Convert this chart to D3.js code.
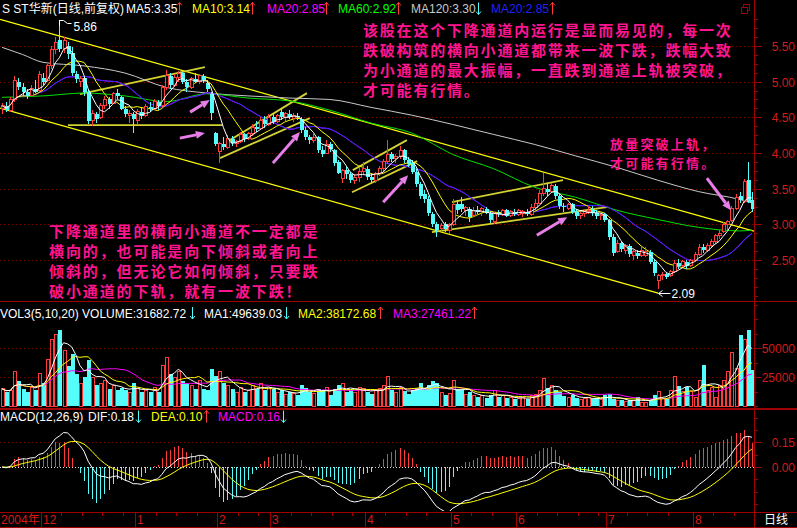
<!DOCTYPE html>
<html><head><meta charset="utf-8">
<script src="https://cdn.jsdelivr.net/npm/d3@7"></script>
<style>html,body{margin:0;padding:0;background:#000;}svg{display:block;}</style>
</head><body><svg id="c" width="797" height="528"></svg>
<script>
// ---------------- DATA ----------------
const opens=[4.62,4.66,4.60,4.75,5.00,4.92,4.85,4.80,4.90,4.88,
5.05,5.02,5.22,5.45,5.58,5.46,5.50,5.40,5.10,5.00,
5.05,4.85,4.45,4.55,4.50,4.66,4.75,4.70,4.84,4.78,
4.62,4.52,4.55,4.46,4.58,4.52,4.65,4.62,4.72,4.66,
4.92,5.08,4.95,5.06,5.12,5.00,4.92,5.04,5.00,5.08,
4.98,4.82,4.28,4.02,4.12,4.08,4.20,4.14,4.16,4.26,
4.20,4.28,4.36,4.34,4.46,4.40,4.50,4.44,4.58,4.50,
4.55,4.48,4.52,4.48,4.32,4.22,4.18,4.22,4.04,4.00,
4.12,4.04,3.88,3.64,3.76,3.70,3.62,3.66,3.74,3.78,
3.66,3.62,3.72,3.78,3.88,3.98,3.92,3.95,4.04,3.90,
3.86,3.74,3.56,3.42,3.36,3.14,3.00,2.94,3.00,2.92,
3.00,3.28,3.28,3.20,3.22,3.12,3.20,3.18,3.22,3.16,
3.04,3.16,3.14,3.20,3.12,3.18,3.14,3.16,3.18,3.14,
3.24,3.30,3.44,3.50,3.46,3.54,3.40,3.26,3.22,3.28,
3.18,3.12,3.16,3.18,3.20,3.16,3.12,3.14,3.06,2.82,
2.62,2.74,2.64,2.70,2.56,2.60,2.56,2.56,2.62,2.48,
2.22,2.28,2.30,2.28,2.34,2.46,2.42,2.48,2.42,2.50,
2.58,2.68,2.64,2.70,2.76,2.84,2.90,3.00,3.06,3.22,
3.40,3.32,3.62,3.34];
const highs=[4.70,4.72,4.78,5.08,5.05,4.98,4.90,4.95,5.02,5.15,
5.12,5.25,5.50,5.62,5.86,5.62,5.55,5.48,5.15,5.08,
5.08,4.88,4.60,4.58,4.70,4.80,4.78,4.86,4.90,4.80,
4.66,4.60,4.58,4.62,4.64,4.68,4.72,4.75,4.74,4.95,
5.16,5.12,5.10,5.15,5.14,5.04,5.06,5.12,5.10,5.10,
5.02,4.86,4.30,4.15,4.22,4.25,4.24,4.18,4.30,4.28,
4.30,4.40,4.45,4.50,4.52,4.55,4.56,4.55,4.62,4.58,
4.60,4.56,4.56,4.50,4.36,4.25,4.26,4.24,4.10,4.18,
4.15,4.06,3.90,3.78,3.80,3.74,3.70,3.80,3.88,3.82,
3.72,3.74,3.82,3.92,4.18,4.02,3.98,4.10,4.06,3.94,
3.90,3.78,3.60,3.48,3.40,3.18,3.04,3.02,3.04,3.02,
3.35,3.34,3.38,3.26,3.24,3.24,3.26,3.24,3.24,3.18,
3.18,3.20,3.22,3.22,3.20,3.22,3.22,3.20,3.22,3.28,
3.36,3.48,3.72,3.56,3.58,3.56,3.42,3.30,3.30,3.30,
3.22,3.18,3.20,3.26,3.26,3.20,3.16,3.16,3.08,2.86,
2.78,2.76,2.72,2.72,2.64,2.64,2.68,2.68,2.64,2.50,
2.30,2.34,2.32,2.36,2.50,2.52,2.50,2.50,2.52,2.62,
2.72,2.72,2.74,2.80,2.86,2.92,3.04,3.06,3.26,3.42,
3.46,3.64,3.88,3.46];
const lows=[4.55,4.58,4.58,4.72,4.88,4.80,4.76,4.78,4.84,4.86,
4.95,5.00,5.18,5.38,5.42,5.40,5.32,5.08,4.98,4.92,
4.80,4.40,4.38,4.42,4.48,4.62,4.62,4.68,4.76,4.60,
4.50,4.42,4.28,4.40,4.48,4.50,4.58,4.60,4.60,4.64,
4.88,4.90,4.92,5.00,4.96,4.86,4.90,4.98,4.96,4.98,
4.86,4.46,4.10,3.86,4.04,4.05,4.10,4.08,4.14,4.16,
4.18,4.24,4.30,4.32,4.35,4.38,4.40,4.42,4.46,4.45,
4.48,4.44,4.46,4.28,4.18,4.12,4.14,4.00,3.94,3.98,
4.02,3.82,3.70,3.58,3.64,3.58,3.56,3.60,3.70,3.62,
3.58,3.58,3.68,3.74,3.84,3.88,3.86,3.92,3.86,3.80,
3.70,3.52,3.36,3.30,3.12,2.96,2.82,2.90,2.90,2.86,
2.98,3.14,3.18,3.12,3.04,3.10,3.14,3.12,3.14,3.02,
3.00,3.10,3.12,3.10,3.10,3.12,3.12,3.10,3.12,3.12,
3.20,3.28,3.40,3.40,3.44,3.36,3.22,3.18,3.20,3.14,
3.08,3.08,3.10,3.14,3.12,3.08,3.06,3.04,2.78,2.56,
2.60,2.62,2.58,2.54,2.50,2.52,2.54,2.54,2.44,2.28,
2.09,2.22,2.24,2.26,2.32,2.38,2.40,2.38,2.40,2.48,
2.56,2.60,2.62,2.68,2.72,2.80,2.88,2.92,3.04,3.20,
3.30,3.30,3.30,3.18];
const closes=[4.66,4.60,4.75,5.02,4.92,4.85,4.80,4.90,4.86,5.10,
5.00,5.22,5.45,5.55,5.46,5.58,5.38,5.12,5.03,5.05,
4.85,4.45,4.55,4.48,4.66,4.75,4.68,4.84,4.80,4.62,
4.54,4.56,4.47,4.58,4.52,4.65,4.62,4.72,4.66,4.92,
5.08,4.95,5.06,5.12,5.00,4.92,5.04,5.00,5.08,5.02,
4.90,4.56,4.12,4.14,4.08,4.20,4.14,4.16,4.26,4.20,
4.28,4.36,4.34,4.46,4.40,4.50,4.44,4.52,4.50,4.55,
4.50,4.52,4.50,4.32,4.22,4.18,4.22,4.04,3.98,4.12,
4.06,3.86,3.72,3.76,3.70,3.62,3.66,3.74,3.78,3.66,
3.62,3.72,3.78,3.88,3.98,3.92,3.95,4.04,3.90,3.84,
3.74,3.56,3.40,3.36,3.16,3.00,2.92,2.99,2.94,3.00,
3.28,3.20,3.22,3.24,3.10,3.20,3.18,3.22,3.16,3.06,
3.16,3.14,3.20,3.12,3.18,3.14,3.20,3.18,3.14,3.24,
3.30,3.44,3.50,3.46,3.54,3.40,3.26,3.24,3.28,3.18,
3.12,3.16,3.18,3.20,3.16,3.12,3.14,3.06,2.82,2.60,
2.74,2.66,2.70,2.58,2.62,2.56,2.64,2.62,2.48,2.32,
2.28,2.30,2.27,2.34,2.46,2.42,2.48,2.42,2.50,2.58,
2.68,2.64,2.70,2.76,2.84,2.88,3.00,3.04,3.22,3.38,
3.34,3.60,3.32,3.22];
const volumes=[15000,12000,14000,30000,22000,15000,12000,16000,14000,28000,
20000,40000,58000,62000,66000,48000,35000,45000,28000,20000,25000,
40000,25000,18000,20000,22000,15000,18000,14000,16000,14000,12000,20000,
15000,12000,14000,12000,16000,12000,35000,42000,28000,25000,30000,22000,20000,18000,15000,22000,15000,14000,32000,26000,
30000,20000,18000,15000,12000,16000,12000,14000,18000,15000,20000,14000,16000,
15000,12000,14000,10000,12000,11000,10000,18000,16000,12000,11000,15000,14000,16000,10000,15000,18000,20000,12000,14000,12000,16000,15000,
12000,11000,14000,15000,18000,26000,14000,12000,16000,13000,11000,14000,16000,20000,15000,18000,22000,20000,12000,10000,11000,
22000,15000,14000,10000,12000,9000,8000,9000,7000,10000,14000,8000,9000,7000,8000,6000,7000,8000,6000,9000,10000,14000,24000,16000,18000,14000,12000,9000,8000,10000,7000,6000,7000,8000,6000,7000,6000,
9500,10300,6000,5200,5200,4300,5200,4600,8000,3700,3700,5200,9500,13000,6600,6600,13800,25300,17200,12400,16600,12400,8000,22400,36000,13400,16600,8000,18000,22400,30400,46800,32700,61200,57800,65500,31683];
// MA60 / MA120 (index, value)
const ma60Idx=[0,10,20,30,40,50,60,70,80,90,100,110,120,130,140,150,160,170,180,183];
const ma60Vals=[4.78,4.80,4.84,4.80,4.72,4.83,4.77,4.73,4.60,4.42,4.28,3.98,3.78,3.52,3.38,3.20,3.07,2.96,2.91,2.92];
const ma120Idx=[0,5,10,20,30,40,50,60,70,80,90,100,110,120,130,140,150,160,170,180,183];
const ma120Vals=[5.48,5.38,5.27,5.22,5.12,4.92,4.84,4.80,4.77,4.75,4.64,4.53,4.40,4.26,4.12,3.96,3.80,3.62,3.46,3.35,3.30];
const monthStarts=[10,33,53,66,89,110,126,148,169];
const monthLabels=["12","1","2","3","4","5","6","7","8"];
const priceTicks=[5.5,5.0,4.5,4.0,3.5,3.0,2.5];
const volTicks=[50000,25000];
const macdTicks=[0.15,0.00];
// channel lines: [[index, price],[index, price]]
const mainChannel=[[[-0.5,5.873],[183.5,2.906]],[[-0.5,4.629],[160.1,2.04]]];
const smallChannels=[
 [[19.0,4.825],[49.5,5.203]],[[16.1,4.391],[53.7,4.391]],
 [[55.6,4.181],[74.4,4.839]],[[53.2,3.929],[75.1,4.489]],
 [[85.6,3.761],[98.8,4.181]],[[85.4,3.452],[101.3,3.887]],
 [[109.8,3.312],[136.9,3.620]],[[104.9,2.892],[147.6,3.242]]];
const pinkArrows=[[[45.9,4.573],[50.7,4.741]],[[43.4,4.209],[49.5,4.279]],[[66.1,3.859],[72.7,4.293]],
 [[93.0,3.312],[99.1,3.690]],[[130.5,2.850],[137.9,3.102]],[[172.0,3.648],[177.9,3.200]]];
const note1=["该股在这个下降通道内运行是显而易见的，每一次","跌破构筑的横向小通道都带来一波下跌，跌幅大致","为小通道的最大振幅，一直跌到通道上轨被突破，","才可能有行情。"];
const note2=["下降通道里的横向小通道不一定都是","横向的，也可能是向下倾斜或者向上","倾斜的，但无论它如何倾斜，只要跌","破小通道的下轨，就有一波下跌！"];
const note3=["放量突破上轨，","才可能有行情。"];

// ---------------- DRAW ----------------
const RED="#ff3c3c",CYAN="#54fcfc",AX="#a00000",LBL="#d41a1a",GRID="#7a0000";
const FONT="'Liberation Sans',Arial,'Noto Sans CJK SC',sans-serif";
const N=closes.length;
const svg=d3.select("#c");
svg.append("rect").attr("width",797).attr("height",528).attr("fill","#000");
const x=d3.scaleLinear().domain([-0.5,N-0.5]).range([0,754]);
const yP=d3.scaleLinear().domain([2.5,5.5]).range([260.2,45.9]);
const yV=d3.scaleLinear().domain([0,50000]).range([406.3,348.3]);
const yM=d3.scaleLinear().domain([0,0.15]).range([467,442.3]);
const defs=svg.append("defs");
function clip(id,y0,h){defs.append("clipPath").attr("id",id).append("rect").attr("x",0).attr("y",y0).attr("width",754).attr("height",h);}
clip("cm",17,284);clip("cv",302,106);clip("cd",410,101);
const cx=i=>Math.round(x(i));

// grids
const grid=svg.append("g").attr("stroke",GRID).attr("stroke-dasharray","1,3");
priceTicks.forEach(t=>grid.append("line").attr("x1",0).attr("x2",754).attr("y1",Math.round(yP(t))+0.5).attr("y2",Math.round(yP(t))+0.5));
volTicks.forEach(t=>grid.append("line").attr("x1",0).attr("x2",754).attr("y1",Math.round(yV(t))+0.5).attr("y2",Math.round(yV(t))+0.5));
grid.append("line").attr("x1",0).attr("x2",754).attr("y1",Math.round(yM(0.15))+0.5).attr("y2",Math.round(yM(0.15))+0.5);

// panel frame
const fr=svg.append("g").attr("stroke",AX).attr("shape-rendering","crispEdges");
fr.append("line").attr("x1",0).attr("x2",797).attr("y1",301.5).attr("y2",301.5);
fr.append("line").attr("x1",0).attr("x2",797).attr("y1",409).attr("y2",409).attr("stroke-width",2);
fr.append("line").attr("x1",0).attr("x2",797).attr("y1",512.5).attr("y2",512.5);
fr.append("line").attr("x1",0).attr("x2",797).attr("y1",527.5).attr("y2",527.5);
fr.append("line").attr("x1",754.5).attr("x2",754.5).attr("y1",0).attr("y2",528);
// window icon
fr.append("rect").attr("x",743.5).attr("y",4.5).attr("width",6).attr("height",6).attr("fill","none");
fr.append("rect").attr("x",741.5).attr("y",7.5).attr("width",6).attr("height",6).attr("fill","#000");

// right axes
function rightAxis(scale,ticks,minor,y0,y1,fmt){
  const g=svg.append("g").attr("shape-rendering","crispEdges");
  minor.forEach(v=>{const y=Math.round(scale(v))+0.5;if(y>y0&&y<y1)g.append("line").attr("x1",755).attr("x2",758).attr("y1",y).attr("y2",y).attr("stroke",AX);});
  ticks.forEach(v=>{const y=Math.round(scale(v))+0.5;
    g.append("line").attr("x1",755).attr("x2",762).attr("y1",y).attr("y2",y).attr("stroke",AX);
    g.append("text").attr("x",795).attr("y",y+4).attr("text-anchor","end").attr("fill",LBL).attr("font-family",FONT).attr("font-size",12).text(fmt(v));});
}
rightAxis(yP,priceTicks,d3.range(2.0,6.0,0.125),18,300,d3.format(".2f"));
rightAxis(yV,volTicks,d3.range(0,90000,12500),303,407,d3.format("d"));
rightAxis(yM,macdTicks,d3.range(-0.3,0.4,0.075),411,511,d3.format(".2f"));

// x axis
const xa=svg.append("g").attr("shape-rendering","crispEdges");
xa.append("text").attr("x",1).attr("y",524).attr("fill",LBL).attr("font-family",FONT).attr("font-size",12).text("2004年");
monthStarts.forEach((s,k)=>{
  const xx=Math.round(x(s-0.5))+0.5;
  xa.append("line").attr("x1",xx).attr("x2",xx).attr("y1",512).attr("y2",528).attr("stroke",AX);
  xa.append("text").attr("x",xx+1.5).attr("y",524).attr("fill",LBL).attr("font-family",FONT).attr("font-size",12).text(monthLabels[k]);
  const end=k<monthStarts.length-1?monthStarts[k+1]:N;
  for(let j=s+5;j<end-1;j+=5){const tx=Math.round(x(j-0.5))+0.5;
    xa.append("line").attr("x1",tx).attr("x2",tx).attr("y1",513).attr("y2",516).attr("stroke",AX);}
});
svg.append("text").attr("x",764).attr("y",524).attr("fill","#fff").attr("font-family","'Noto Sans CJK SC',sans-serif").attr("font-size",12).text("日线");

// ---------------- MAIN PANEL ----------------
const main=svg.append("g").attr("clip-path","url(#cm)");
const lineXY=d3.line().x(d=>x(d[0])).y(d=>yP(d[1]));
mainChannel.forEach(l=>main.append("path").attr("d",lineXY(l)).attr("stroke","#ffff00").attr("stroke-width",1.2).attr("fill","none"));
smallChannels.forEach(l=>main.append("path").attr("d",lineXY(l)).attr("stroke","#d2d232").attr("stroke-width",1.8).attr("fill","none"));

function ma(arr,n){return arr.map((v,i)=>{const s=arr.slice(Math.max(0,i-n+1),i+1);return d3.mean(s);});}
const lineIdx=d3.line().x((d,i)=>x(i)).y(d=>yP(d));
const ma5=ma(closes,5),ma10=ma(closes,10),ma20=ma(closes,20);
const sampleLine=d3.line().x(d=>x(d[0])).y(d=>yP(d[1])).curve(d3.curveMonotoneX);
main.append("path").attr("d",sampleLine(ma120Idx.map((v,k)=>[v,ma120Vals[k]]))).attr("stroke","#c8c8c8").attr("fill","none");
main.append("path").attr("d",sampleLine(ma60Idx.map((v,k)=>[v,ma60Vals[k]]))).attr("stroke","#00e000").attr("fill","none");
main.append("path").attr("d",lineIdx(ma20)).attr("stroke","#ff00ff").attr("fill","none");
main.append("path").attr("d",lineIdx(ma20)).attr("stroke","#2828ff").attr("fill","none");
main.append("path").attr("d",lineIdx(ma10)).attr("stroke","#ffff00").attr("fill","none");

// candles
const cg=main.append("g").attr("shape-rendering","crispEdges");
d3.range(N).forEach(i=>{
  const up=closes[i]>=opens[i];const c=up?RED:CYAN;const X=cx(i)+0.5;
  cg.append("line").attr("x1",X).attr("x2",X).attr("y1",yP(highs[i])).attr("y2",yP(lows[i])).attr("stroke",c);
  const top=yP(Math.max(opens[i],closes[i])),bot=yP(Math.min(opens[i],closes[i]));
  const h=Math.max(1,bot-top);
  if(up) cg.append("rect").attr("x",X-1.5).attr("y",top).attr("width",3).attr("height",h).attr("fill","#000").attr("stroke",c);
  else cg.append("rect").attr("x",X-1.5).attr("y",top).attr("width",4).attr("height",h).attr("fill",c);
});
main.append("path").attr("d",lineIdx(ma5)).attr("stroke","#ffffff").attr("fill","none");

// pink arrows
const pa=svg.append("g");
pinkArrows.forEach(a=>{
  const x1=x(a[0][0]),y1=yP(a[0][1]),x2=x(a[1][0]),y2=yP(a[1][1]);
  const ang=Math.atan2(y2-y1,x2-x1);const L=9,W=4;
  const bx=x2-L*Math.cos(ang),by=y2-L*Math.sin(ang);
  pa.append("line").attr("x1",x1).attr("y1",y1).attr("x2",bx).attr("y2",by).attr("stroke","#e87ee8").attr("stroke-width",3);
  pa.append("path").attr("d",`M${x2},${y2}L${bx+W*Math.sin(ang)},${by-W*Math.cos(ang)}L${bx-W*Math.sin(ang)},${by+W*Math.cos(ang)}Z`).attr("fill","#e87ee8");
});

// high / low markers
const hiI=d3.maxIndex(highs),loI=d3.minIndex(lows);
{const px=cx(hiI)+0.5,py=Math.round(yP(highs[hiI]))+0.5;
 svg.append("path").attr("d",`M${px},${py+5}V${py}H${px+4}L${px+8},${py+3}L${px+12},${py+3}`).attr("stroke","#fff").attr("fill","none");
 svg.append("text").attr("x",px+14).attr("y",py+10).attr("fill","#fff").attr("font-family",FONT).attr("font-size",12).text(d3.format(".2f")(highs[hiI]));}
{const px=cx(loI)+0.5,py=Math.round(yP(lows[loI]))+4.5;
 svg.append("path").attr("d",`M${px+12},${py}H${px}M${px+4},${py-3}L${px},${py}L${px+4},${py+3}`).attr("stroke","#fff").attr("fill","none");
 svg.append("text").attr("x",px+13).attr("y",py+4).attr("fill","#fff").attr("font-family",FONT).attr("font-size",12).text(d3.format(".2f")(lows[loI]));}

// notes
function note(lines,x0,y0,dy,fs,ls){
  const t=svg.append("text").attr("fill","#ff1490").attr("font-family","'Noto Sans CJK SC',sans-serif").attr("font-weight","bold").attr("font-size",fs).attr("letter-spacing",ls);
  lines.forEach((s,k)=>t.append("tspan").attr("x",x0).attr("y",y0+k*dy).text(s));
}
note(note1,363,36,20,15,1.8);
note(note2,49,237,20,15,1.9);
note(note3,610,149,19,13,2.2);

// ---------------- VOLUME PANEL ----------------
const vol=svg.append("g").attr("clip-path","url(#cv)");
const vg=vol.append("g").attr("shape-rendering","crispEdges");
d3.range(N).forEach(i=>{
  const up=closes[i]>=opens[i];const c=up?RED:CYAN;const X=cx(i)+0.5;const top=yV(volumes[i]);
  if(up) vg.append("rect").attr("x",X-1.5).attr("y",top).attr("width",3).attr("height",yV(0)-top).attr("fill","#000").attr("stroke",c);
  else vg.append("rect").attr("x",X-1.5).attr("y",top).attr("width",4).attr("height",yV(0)-top).attr("fill",c);
});
const vline=d3.line().x((d,i)=>x(i)).y(d=>yV(d));
vol.append("path").attr("d",vline(ma(volumes,20))).attr("stroke","#ff00ff").attr("fill","none");
vol.append("path").attr("d",vline(ma(volumes,10))).attr("stroke","#ffff00").attr("fill","none");
vol.append("path").attr("d",vline(ma(volumes,5))).attr("stroke","#ffffff").attr("fill","none");

// ---------------- MACD PANEL ----------------
function ema(arr,n){const a=2/(n+1);const out=[];arr.forEach((v,i)=>out.push(i?out[i-1]+a*(v-out[i-1]):v));return out;}
const e12=ema(closes,12),e26=ema(closes,26);
const dif=e12.map((v,i)=>v-e26[i]);const dea=ema(dif,9);const hist=dif.map((v,i)=>2*(v-dea[i]));
const md=svg.append("g").attr("clip-path","url(#cd)");
md.append("line").attr("x1",0).attr("x2",754).attr("y1",Math.round(yM(0))+0.5).attr("y2",Math.round(yM(0))+0.5).attr("stroke","#ddd").attr("stroke-dasharray","1,2");
const mg=md.append("g").attr("shape-rendering","crispEdges");
hist.forEach((v,i)=>mg.append("line").attr("x1",cx(i)+0.5).attr("x2",cx(i)+0.5).attr("y1",yM(0)).attr("y2",yM(v)).attr("stroke",v>=0?RED:CYAN));
const mline=d3.line().x((d,i)=>x(i)).y(d=>yM(d));
md.append("path").attr("d",mline(dea)).attr("stroke","#ffff00").attr("fill","none");
md.append("path").attr("d",mline(dif)).attr("stroke","#ffffff").attr("fill","none");

// ---------------- HEADERS ----------------
const mainHeader=[
 {t:"S ST华新(日线,前复权)",x:2,c:"#fff"},{t:"MA5:3.35",x:126,c:"#fff"},{a:"up",x:179,c:RED},
 {t:"MA10:3.14",x:192,c:"#ffff00"},{a:"up",x:252,c:RED},
 {t:"MA20:2.85",x:267,c:"#ff00ff"},{a:"up",x:326,c:RED},
 {t:"MA60:2.92",x:338,c:"#00ff00"},{a:"up",x:398,c:RED},
 {t:"MA120:3.30",x:411,c:"#c8c8c8"},{a:"down",x:478,c:CYAN},
 {t:"MA20:2.85",x:491,c:"#2020ff"},{a:"up",x:552,c:RED}];
const volHeader=[
 {t:"VOL3(5,10,20) VOLUME:31682.72",x:0,c:"#fff"},{a:"down",x:192,c:CYAN},
 {t:"MA1:49639.03",x:204,c:"#fff"},{a:"down",x:286,c:CYAN},
 {t:"MA2:38172.68",x:298,c:"#ffff00"},{a:"up",x:380,c:RED},
 {t:"MA3:27461.22",x:393,c:"#ff00ff"},{a:"up",x:474,c:RED}];
const macdHeader=[
 {t:"MACD(12,26,9)",x:0,c:"#fff"},{t:"DIF:0.18",x:88,c:"#fff"},{a:"down",x:138,c:CYAN},
 {t:"DEA:0.10",x:151,c:"#ffff00"},{a:"up",x:206,c:RED},
 {t:"MACD:0.16",x:218,c:"#ff00ff"},{a:"down",x:283,c:CYAN}];
function header(items,yc){
  items.forEach(it=>{
    if(it.t) svg.append("text").attr("x",it.x).attr("y",yc+4.5).attr("fill",it.c).attr("font-family",FONT).attr("font-size",12).text(it.t);
    else{const X=it.x+0.5;const g=svg.append("g").attr("stroke",it.c).attr("fill","none");
      g.append("line").attr("x1",X).attr("x2",X).attr("y1",yc-6).attr("y2",yc+6);
      if(it.a==="up") g.append("path").attr("d",`M${X-2.5},${yc-3}L${X},${yc-6}L${X+2.5},${yc-3}`);
      else g.append("path").attr("d",`M${X-2.5},${yc+3}L${X},${yc+6}L${X+2.5},${yc+3}`);}
  });
}
header(mainHeader,8.5);header(volHeader,313);header(macdHeader,416.5);
</script></body></html>
